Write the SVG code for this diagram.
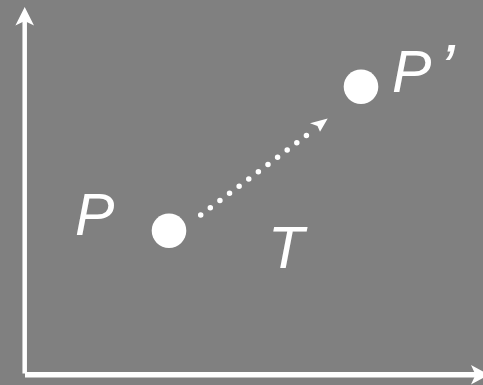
<svg xmlns="http://www.w3.org/2000/svg" width="483" height="385" viewBox="0 0 483 385">
<style>
.lbl{font-family:"Liberation Sans",Arial,sans-serif;font-style:italic;font-size:59px;fill:#fff}
.pt{fill:#fff}
.ax{stroke:#fff;fill:none}
</style>
<rect x="0" y="0" width="483" height="385" fill="#808080"/>
<g id="axes">
<line class="ax" x1="24.7" y1="373.5" x2="24.7" y2="20" stroke-width="4.5"/>
<polygon fill="#fff" points="24.7,7 34,25.5 24.7,21 15.4,25.5"/>
<line class="ax" x1="25" y1="374.8" x2="476" y2="374.8" stroke-width="5.5"/>
<polygon fill="#fff" points="489,374.8 471,384.5 475.5,374.8 471,365"/>
</g>
<g id="connectors">
<line x1="200.7" y1="215" x2="316" y2="128.4" stroke="#fff" stroke-width="5.5" stroke-linecap="round" stroke-dasharray="0 12.02"/>
<polygon fill="#fff" points="327.7,118.5 320,131.8 317.5,126 310,123.3"/>
</g>
<g id="node-P">
<circle class="pt" cx="169" cy="230.7" r="17.3"/>
<text class="lbl" x="75" y="235">P</text>
</g>
<g id="node-P2">
<circle class="pt" cx="361" cy="86.7" r="17.3"/>
<text class="lbl" x="392" y="92">P<tspan dx="8" font-size="68">’</tspan></text>
</g>
<g id="label-T">
<text class="lbl" x="268" y="267.5">T</text>
</g>
</svg>
